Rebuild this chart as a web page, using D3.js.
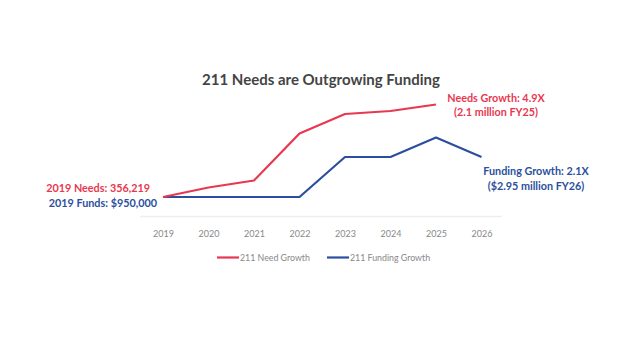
<!DOCTYPE html>
<html><head><meta charset="utf-8">
<script src="https://cdn.jsdelivr.net/npm/d3@7"></script>
<style>body{margin:0;background:#fff}svg{display:block}</style>
</head><body>
<svg id="c" width="640" height="360"></svg>
<script>
const years = ["2019","2020","2021","2022","2023","2024","2025","2026"];
// relative growth index (2019 = 0)
const needGrowth = [0, 9.5, 16.5, 63.5, 83, 86, 92.5];
const fundingGrowth = [0, 0, 0, 0, 40, 40, 59.5, 40];
const seriesNames = ["211 Need Growth", "211 Funding Growth"];
const title = "211 Needs are Outgrowing Funding";

const red = "#e8384f", blue = "#2b4f9e";
const svg = d3.select("#c");
const x = d3.scalePoint().domain(years).range([163, 481.5]);
const y = d3.scaleLinear().domain([0, 100]).range([197, 97]);

svg.append("text").attr("x", 321).attr("y", 85).attr("text-anchor", "middle")
  .attr("font-family", "Lato").attr("font-weight", "bold").attr("font-size", 15)
  .attr("fill", "#444").text(title);

// faint axis line
svg.append("line").attr("x1", 140).attr("x2", 502).attr("y1", 216.5).attr("y2", 216.5)
  .attr("stroke", "#eeeeee").attr("stroke-width", 1.5);

const ax = d3.axisBottom(x).tickSize(0).tickPadding(0);
const g = svg.append("g").attr("transform", "translate(0,237)").call(ax);
g.select(".domain").remove();
g.selectAll("text").attr("font-family", "Lato").attr("font-size", 9).attr("fill", "#888").attr("dy", 0);

const line = d3.line().x((d, i) => x(years[i])).y(d => y(d));
svg.append("path").datum(fundingGrowth).attr("d", line).attr("fill", "none")
  .attr("stroke", blue).attr("stroke-width", 2.2).attr("stroke-linejoin", "round");
svg.append("path").datum(needGrowth).attr("d", line).attr("fill", "none")
  .attr("stroke", red).attr("stroke-width", 2.2).attr("stroke-linejoin", "round");

function label(txt, xx, yy, color, anchor) {
  svg.append("text").attr("x", xx).attr("y", yy).attr("text-anchor", anchor)
    .attr("font-family", "Lato").attr("font-weight", "bold").attr("font-size", 10.8)
    .attr("fill", color).text(txt);
}
label("2019 Needs: 356,219", 150, 191.5, red, "end");
label("2019 Funds: $950,000", 157, 206.5, blue, "end");
label("Needs Growth: 4.9X", 496, 101.5, red, "middle");
label("(2.1 million FY25)", 496, 116, red, "middle");
label("Funding Growth: 2.1X", 536, 175, blue, "middle");
label("($2.95 million FY26)", 536, 189.5, blue, "middle");

// legend
const leg = [[seriesNames[0], red, 217], [seriesNames[1], blue, 327]];
leg.forEach(([n, c, lx]) => {
  svg.append("line").attr("x1", lx).attr("x2", lx + 22).attr("y1", 257.5).attr("y2", 257.5)
    .attr("stroke", c).attr("stroke-width", 2.2);
  svg.append("text").attr("x", lx + 23).attr("y", 260.5).attr("font-family", "Lato")
    .attr("font-size", 8.8).attr("fill", "#888").text(n);
});
</script>
</body></html>
